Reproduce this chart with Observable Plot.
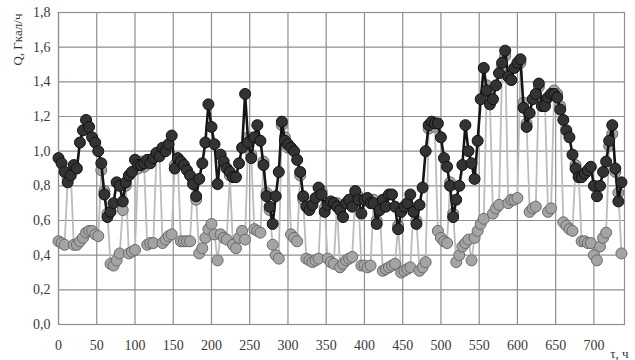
<!DOCTYPE html>
<html><head><meta charset="utf-8">
<script src="https://cdn.jsdelivr.net/npm/d3@7"></script>
<script src="https://cdn.jsdelivr.net/npm/@observablehq/plot@0.6"></script>
<style>body{margin:0;background:#fff;} svg text{font-family:"Liberation Serif","Times New Roman",serif !important;}</style>
</head><body><div id="chart"></div>
<script>
const hours = [
  0,4,8,12,16,20,24,28,32,36,
  40,44,48,52,56,60,64,68,72,76,
  80,84,88,92,96,100,104,108,112,116,
  120,124,128,132,136,140,144,148,152,156,
  160,164,168,172,176,180,184,188,192,196,
  200,204,208,212,216,220,224,228,232,236,
  240,244,248,252,256,260,264,268,272,276,
  280,284,288,292,296,300,304,308,312,316,
  320,324,328,332,336,340,344,348,352,356,
  360,364,368,372,376,380,384,388,392,396,
  400,404,408,412,416,420,424,428,432,436,
  440,444,448,452,456,460,464,468,472,476,
  480,484,488,492,496,500,504,508,512,516,
  520,524,528,532,536,540,544,548,552,556,
  560,564,568,572,576,580,584,588,592,596,
  600,604,608,612,616,620,624,628,632,636,
  640,644,648,652,656,660,664,668,672,676,
  680,684,688,692,696,700,704,708,712,716,
  720,724,728,732,736
];
const heatTotal = [
  0.96,0.93,0.88,0.82,0.86,0.92,0.90,1.05,1.12,1.18,
  1.14,1.08,1.05,1.00,0.93,0.75,0.62,0.65,0.70,0.82,
  0.80,0.71,0.82,0.86,0.88,0.95,0.92,0.92,0.93,0.95,
  0.93,0.96,0.99,0.97,1.02,1.00,1.04,1.09,0.90,0.96,
  0.94,0.92,0.89,0.86,0.81,0.74,0.84,0.93,1.05,1.27,
  1.14,1.04,0.81,0.98,0.94,0.90,0.88,0.85,0.85,0.93,
  1.02,1.33,1.05,0.96,1.08,1.15,1.06,0.92,0.74,0.68,
  0.58,0.74,0.88,1.17,1.06,1.04,1.02,1.00,0.95,0.88,
  0.74,0.68,0.66,0.69,0.73,0.79,0.75,0.65,0.69,0.71,
  0.70,0.68,0.66,0.62,0.70,0.72,0.68,0.77,0.72,0.64,
  0.72,0.73,0.70,0.70,0.58,0.66,0.72,0.68,0.75,0.75,
  0.68,0.55,0.65,0.68,0.70,0.75,0.65,0.58,0.69,0.79,
  1.00,1.15,1.17,1.16,1.16,1.08,0.96,0.91,0.80,0.62,
  0.72,0.80,0.92,1.15,1.00,0.93,0.84,1.06,1.30,1.48,
  1.35,1.27,1.30,1.38,1.45,1.51,1.58,1.43,1.41,1.48,
  1.51,1.53,1.25,1.14,1.22,1.30,1.33,1.39,1.26,1.26,
  1.31,1.33,1.33,1.31,1.24,1.18,1.12,1.08,0.98,0.90,
  0.85,0.85,0.87,0.89,0.91,0.80,0.74,0.80,0.88,0.94,
  1.06,1.15,0.90,0.71,0.82
];
const heatHeating = [
  0.48,0.47,0.46,0.84,0.88,0.46,0.46,0.48,0.50,0.53,
  0.54,0.54,0.52,0.51,0.89,0.77,0.64,0.35,0.34,0.37,
  0.41,0.66,0.80,0.41,0.42,0.43,0.90,0.94,0.91,0.46,
  0.47,0.47,0.97,0.99,0.47,0.49,0.51,0.52,0.92,0.94,
  0.48,0.48,0.48,0.48,0.83,0.72,0.41,0.44,0.50,0.55,
  0.58,0.52,0.37,0.52,0.50,0.49,0.86,0.46,0.44,0.50,
  0.54,0.49,1.08,0.98,0.55,0.54,0.53,0.94,0.76,0.66,
  0.46,0.40,0.38,1.15,1.08,1.02,0.52,0.50,0.48,0.86,
  0.72,0.38,0.37,0.36,0.37,0.38,0.77,0.67,0.38,0.36,
  0.35,0.70,0.33,0.35,0.37,0.38,0.39,0.75,0.74,0.34,
  0.34,0.33,0.34,0.72,0.60,0.68,0.31,0.32,0.33,0.34,
  0.35,0.57,0.30,0.31,0.32,0.33,0.67,0.60,0.31,0.33,
  0.36,1.13,1.15,1.14,0.54,0.50,0.48,0.47,0.82,0.64,
  0.36,0.40,0.45,0.47,0.49,0.37,0.50,0.54,0.58,0.61,
  1.38,1.29,0.64,0.67,0.69,1.49,1.55,0.70,0.72,0.72,
  0.73,1.51,1.28,1.16,0.65,0.67,0.68,1.37,1.29,1.28,
  0.65,0.67,1.35,1.33,1.26,0.59,0.57,0.55,0.54,0.92,
  0.87,0.48,0.48,0.47,0.47,0.40,0.37,0.45,0.50,0.53,
  1.03,1.10,0.88,0.76,0.41
];
const xTicks = [0,50,100,150,200,250,300,350,400,450,500,550,600,650,700];
const yTicks = [0,0.2,0.4,0.6,0.8,1.0,1.2,1.4,1.6,1.8];
const yLabel = "Q, Гкал/ч";
const xLabel = "τ, ч";

const dark = hours.map((h, i) => ({h, q: heatTotal[i]}));
const grey = hours.map((h, i) => ({h, q: heatHeating[i]}));
const fmt = d => d.toFixed(1).replace(".", ",");
const serif = "Liberation Serif";

const chart = Plot.plot({
  width: 635, height: 360,
  marginLeft: 58, marginRight: 11, marginTop: 12, marginBottom: 36,
  style: {fontFamily: serif, fontSize: "14px", color: "#333", background: "#fff", overflow: "visible"},
  x: {domain: [0, 740], label: null},
  y: {domain: [0, 1.8], label: null},
  marks: [
    Plot.gridX(xTicks, {stroke: "#8f8f8f", strokeOpacity: 1, strokeWidth: 1.2}),
    Plot.gridY(yTicks, {stroke: "#8f8f8f", strokeOpacity: 1, strokeWidth: 1.2}),
    Plot.frame({stroke: "#8f8f8f", strokeWidth: 1.2}),
    Plot.axisX(xTicks, {tickSize: 0, tickPadding: 16, tickFormat: d => String(d), fill: "#3a3a3a", fontFamily: serif, fontSize: 14}),
    Plot.axisY(yTicks, {tickSize: 0, tickPadding: 8, tickFormat: fmt, fill: "#3a3a3a", fontFamily: serif, fontSize: 14}),
    Plot.line(grey, {x: "h", y: "q", stroke: "#bcbcbc", strokeWidth: 1.8}),
    Plot.dot(grey, {x: "h", y: "q", r: 5.5, fill: "#a4a4a4", stroke: "#6a6a6a", strokeWidth: 1}),
    Plot.line(dark, {x: "h", y: "q", stroke: "#161616", strokeWidth: 2.6}),
    Plot.dot(dark, {x: "h", y: "q", r: 5.5, fill: "#333333", stroke: "#111", strokeWidth: 1}),
    Plot.text([yLabel], {frameAnchor: "top-left", dx: -41, dy: 1, rotate: -90, textAnchor: "end", lineAnchor: "middle", fontSize: 13, fill: "#333", fontFamily: serif}),
    Plot.text([xLabel], {frameAnchor: "bottom-right", dx: 4, dy: 29, textAnchor: "end", lineAnchor: "middle", fontSize: 13, fill: "#333", fontFamily: serif})
  ]
});
document.getElementById("chart").appendChild(chart);
</script>
</body></html>
